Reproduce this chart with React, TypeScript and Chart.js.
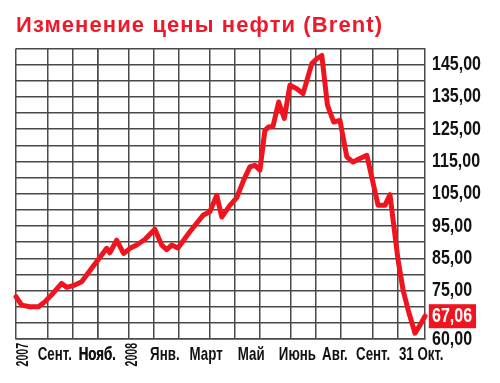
import React, { useEffect, useRef } from 'react';
import { Chart, registerables, LinearScale } from 'chart.js';

// ---- data ----
const TITLE = 'Изменение цены нефти (Brent)';
// time in weeks from start of the axis (late July 2007)
const weeks = [
  0, 0.9, 2.2, 3.6, 4.6, 5.9, 7.3, 8.1, 9.4, 10.5, 12.1, 13.7, 14.5, 15.0, 16.1, 17.2,
  18.4, 19.3, 20.6, 22.2, 23.3, 24.1, 24.9, 25.9, 27.8, 29.9, 31.0, 32.1, 32.9, 34.2,
  35.3, 36.4, 37.4, 38.2, 39.0, 39.8, 40.4, 41.1, 42.0, 42.9, 43.8, 44.9, 45.9, 47.3,
  48.1, 48.9, 49.8, 50.8, 51.8, 52.9, 53.9, 55.0, 56.1, 57.9, 59.0, 59.8, 60.3, 61.1,
  61.9, 62.7, 63.8, 64.6, 65.4,
];
const prices = [
  73.1, 70.5, 70.0, 70.0, 71.5, 74.1, 77.2, 76.0, 76.7, 77.7, 81.9, 86.0, 88.1, 86.7, 90.6, 86.5,
  88.3, 89.1, 90.8, 94.0, 89.1, 87.7, 89.1, 88.2, 93.2, 98.3, 99.4, 104.5, 97.8, 101.4,
  103.8, 109.2, 113.3, 113.8, 112.3, 124.6, 125.7, 125.9, 133.4, 128.3, 138.6, 137.5, 136.0, 145.3,
  146.8, 147.8, 132.4, 127.2, 127.7, 116.4, 114.8, 115.9, 116.9, 101.4, 101.4, 104.7, 96.8, 84.4,
  75.1, 69.0, 61.8, 64.3, 67.06,
];
const lastPrice = 67.06;

const xMax = 65.4;
const gridWeeks = [0, 5, 9, 13, 18, 22, 26, 31, 35, 39, 44, 48, 52, 57, 61];
const monthLabels = ['Сент.', 'Нояб.', 'Янв.', 'Март', 'Май', 'Июнь', 'Авг.', 'Сент.', '31 Окт.'];
const monthLabelWeeks = [6.2, 13.0, 23.8, 30.4, 37.6, 45.0, 51.0, 57.1, 64.8];
const yearLabels = ['2007', '2008'];
const yearLabelWeeks = [1.2, 18.6];

const yMin = 60;
const yMax = 150;
const yStep = 5;
const yLabelValues = [60, 75, 85, 95, 105, 115, 125, 135, 145];

// ---- styles ----
const RED = '#f0141e';
const GRID = '#4a4a4a';
const SANS = '"Liberation Sans", Arial, sans-serif';
// horizontal condensing of tick label text per axis
const STRETCH: Record<string, number> = { x: 0.72, y: 0.8 };
const YEAR_STRETCH = 0.62;

const fmt = (v: number) => v.toFixed(2).replace('.', ',');

// Linear scale whose tick labels are drawn horizontally condensed
class NarrowLinearScale extends (LinearScale as any) {
  static id = 'narrowLinear';
  drawLabels(chartArea: any) {
    const opts: any = this.options;
    if (!opts.ticks.display) return;
    const ctx: CanvasRenderingContext2D = this.ctx;
    const sx = STRETCH[this.id] ?? 1;
    const items = this.getLabelItems(chartArea);
    for (const item of items) {
      const o = item.options;
      if (item.label === '' || item.label == null) continue;
      ctx.save();
      (ctx as any).letterSpacing = '0px';
      ctx.font = item.font.string;
      ctx.translate(o.translation[0], o.translation[1]);
      if (o.rotation) ctx.rotate(o.rotation);
      ctx.scale(sx, 1);
      if (o.backdrop && o.backdrop.color && o.backdrop.color !== 'rgba(0,0,0,0)') {
        ctx.fillStyle = o.backdrop.color;
        ctx.fillRect(o.backdrop.left, o.backdrop.top, o.backdrop.width, o.backdrop.height);
      }
      ctx.fillStyle = o.color;
      ctx.textAlign = o.textAlign;
      ctx.textBaseline = o.textBaseline;
      ctx.fillText(item.label, 0, item.textOffset);
      ctx.restore();
    }
  }
}

Chart.register(...registerables, NarrowLinearScale as any);

const spacingPlugin = {
  id: 'titleSpacing',
  beforeDraw(chart: any) {
    (chart.ctx as any).letterSpacing = '1.1px';
  },
  afterDraw(chart: any) {
    (chart.ctx as any).letterSpacing = '0px';
  },
};

const yearPlugin = {
  id: 'yearLabels',
  afterDraw(chart: any) {
    const ctx = chart.ctx;
    const xs = chart.scales.x;
    ctx.save();
    ctx.letterSpacing = '0px';
    ctx.font = `bold 17px ${SANS}`;
    ctx.fillStyle = '#111';
    ctx.textAlign = 'right';
    ctx.textBaseline = 'middle';
    yearLabels.forEach((t, i) => {
      const px = xs.getPixelForValue(yearLabelWeeks[i]);
      ctx.save();
      ctx.translate(px, chart.chartArea.bottom + 4);
      ctx.rotate(-Math.PI / 2);
      ctx.scale(YEAR_STRETCH, 1);
      ctx.fillText(t, 0, 0);
      ctx.restore();
    });
    ctx.restore();
  },
};

export default function App() {
  const ref = useRef<HTMLCanvasElement | null>(null);

  useEffect(() => {
    if (!ref.current) return;
    const yTicks: number[] = [];
    for (let v = yMin; v <= yMax + 1e-9; v += yStep) yTicks.push(v);
    yTicks.push(lastPrice);
    yTicks.sort((a, b) => a - b);

    const xTicks = [...gridWeeks, ...monthLabelWeeks].sort((a, b) => a - b);

    const chart = new Chart(ref.current, {
      type: 'line',
      data: {
        datasets: [
          {
            data: weeks.map((w, i) => ({ x: w, y: prices[i] })),
            borderColor: RED,
            borderWidth: 5,
            pointRadius: 0,
            tension: 0,
            borderJoinStyle: 'round',
            borderCapStyle: 'round',
            clip: 6,
          } as any,
        ],
      },
      options: {
        animation: false,
        responsive: false,
        maintainAspectRatio: false,
        layout: { padding: { left: 16, right: 0, top: 0, bottom: 0 } },
        plugins: {
          legend: { display: false },
          tooltip: { enabled: false },
          title: {
            display: true,
            text: TITLE,
            align: 'start',
            color: '#ec1a2a',
            font: { family: SANS, size: 22, weight: 'bold' },
            padding: { top: 13, bottom: 9 },
          },
        },
        scales: {
          x: {
            type: 'narrowLinear',
            min: 0,
            max: xMax,
            afterBuildTicks: (s: any) => {
              s.ticks = xTicks.map((v) => ({ value: v }));
            },
            afterFit: (s: any) => {
              s.height = 44;
            },
            grid: {
              drawTicks: false,
              color: (c: any) =>
                c.tick && gridWeeks.includes(c.tick.value) ? GRID : 'rgba(0,0,0,0)',
              lineWidth: 1.5,
            },
            border: { display: true, color: GRID, width: 1.5 },
            ticks: {
              autoSkip: false,
              maxRotation: 0,
              minRotation: 0,
              padding: 5,
              color: '#111',
              font: { family: SANS, size: 18.5, weight: 'bold' },
              callback: (v: any) => {
                const i = monthLabelWeeks.indexOf(Number(v));
                return i >= 0 ? monthLabels[i] : '';
              },
            },
          },
          y: {
            type: 'narrowLinear',
            position: 'right',
            min: yMin,
            max: yMax,
            afterBuildTicks: (s: any) => {
              s.ticks = yTicks.map((v) => ({ value: v }));
            },
            afterFit: (s: any) => {
              s.width = 75;
            },
            grid: {
              drawTicks: false,
              color: (c: any) =>
                c.tick && c.tick.value === lastPrice ? 'rgba(0,0,0,0)' : GRID,
              lineWidth: 1.5,
            },
            border: { display: true, color: GRID, width: 1.5 },
            ticks: {
              autoSkip: false,
              padding: 7,
              color: (c: any) => (c.tick && c.tick.value === lastPrice ? '#ffffff' : '#111111'),
              font: { family: SANS, size: 20, weight: 'bold' },
              showLabelBackdrop: true,
              backdropColor: (c: any) =>
                c.tick && c.tick.value === lastPrice ? RED : 'rgba(0,0,0,0)',
              backdropPadding: { left: 4, right: 5, top: 0, bottom: 0 },
              callback: (v: any) => {
                const n = Number(v);
                if (n === lastPrice) return fmt(lastPrice);
                return yLabelValues.includes(n) ? fmt(n) : '';
              },
            },
          },
        },
      } as any,
      plugins: [spacingPlugin, yearPlugin],
    });
    return () => chart.destroy();
  }, []);

  return (
    <div style={{ position: 'fixed', left: 0, top: 0, width: 500, height: 383, background: '#fff' }}>
      <canvas ref={ref} width={500} height={383} style={{ width: 500, height: 383 }} />
    </div>
  );
}
